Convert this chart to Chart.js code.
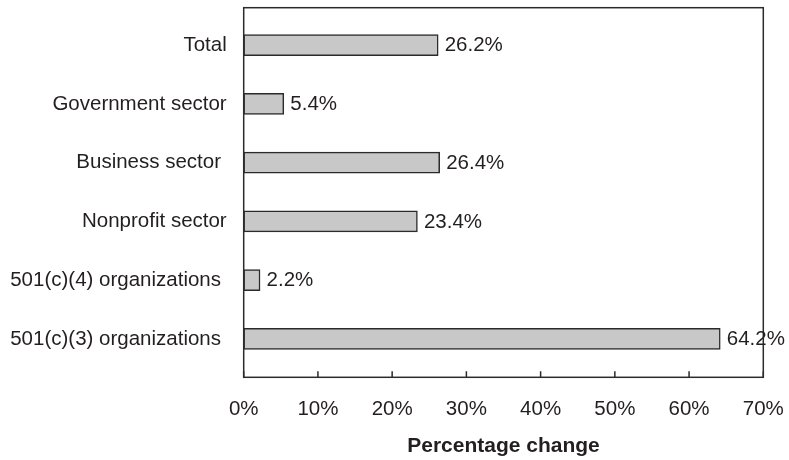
<!DOCTYPE html>
<html>
<head>
<meta charset="utf-8">
<title>Percentage change by sector</title>
<script src="https://cdn.jsdelivr.net/npm/chart.js@4/dist/chart.umd.min.js"></script>
<style>
  html, body { margin: 0; padding: 0; background: #ffffff; }
  #wrap { width: 789px; height: 460px; }
</style>
</head>
<body>
<div id="wrap"><canvas id="chart" width="789" height="460"></canvas></div>
<script>
// Sector categories, top to bottom
const categories = [
  'Total',
  'Government sector',
  'Business sector ',
  'Nonprofit sector',
  '501(c)(4) organizations ',
  '501(c)(3) organizations '
];

// Percentage change for each sector
const percentChange = [26.2, 5.4, 26.4, 23.4, 2.2, 64.2];

// Horizontal axis tick values (percent)
const xTicks = [0, 10, 20, 30, 40, 50, 60, 70];

const TEXT = '#231f20';
const FAMILY = '"Liberation Sans", Arial, Helvetica, sans-serif';

// Frame around the plot, inward tick marks and value labels at bar ends
const framePlugin = {
  id: 'frameAndLabels',
  afterDatasetsDraw(chart) {
    const ctx = chart.ctx;
    const xs = chart.scales.x;
    const area = chart.chartArea;
    const left = area.left, right = area.right;
    const top = 7.7, bottom = 377.3;

    ctx.save();
    ctx.strokeStyle = '#2b2b2b';
    ctx.lineWidth = 1.5;
    ctx.strokeRect(left, top, right - left, bottom - top);

    ctx.beginPath();
    xTicks.forEach(v => {
      const px = xs.getPixelForValue(v);
      ctx.moveTo(px, bottom);
      ctx.lineTo(px, bottom - 6);
    });
    ctx.stroke();

    // value labels
    ctx.fillStyle = TEXT;
    ctx.font = '20.5px ' + FAMILY;
    ctx.textAlign = 'left';
    ctx.textBaseline = 'middle';
    const meta = chart.getDatasetMeta(0);
    meta.data.forEach((bar, i) => {
      ctx.fillText(percentChange[i].toFixed(1) + '%', bar.x + 6.5, bar.y + 0.5);
    });
    ctx.restore();
  }
};

new Chart(document.getElementById('chart'), {
  type: 'bar',
  data: {
    labels: categories,
    datasets: [{
      data: percentChange,
      backgroundColor: '#c8c8c8',
      borderColor: '#2b2b2b',
      borderWidth: 1.5,
      borderSkipped: false,
      barThickness: 21
    }]
  },
  options: {
    indexAxis: 'y',
    responsive: false,
    animation: false,
    devicePixelRatio: 1,
    layout: { padding: { top: 15.8, right: 25.7, bottom: 0, left: 0 } },
    plugins: {
      legend: { display: false },
      tooltip: { enabled: false }
    },
    scales: {
      x: {
        type: 'linear',
        min: 0,
        max: 70,
        afterBuildTicks(scale) {
          scale.ticks = xTicks.map(v => ({ value: v }));
        },
        afterFit(scale) {
          scale.height = 91.7;
          scale.paddingLeft = 0;
          scale.paddingRight = 0;
        },
        grid: { display: false, drawTicks: false },
        border: { display: false },
        ticks: {
          padding: 28.3,
          color: TEXT,
          font: { family: FAMILY, size: 20.5 },
          maxRotation: 0,
          callback: v => v + '%'
        },
        title: {
          display: true,
          text: 'Percentage change',
          color: TEXT,
          font: { family: FAMILY, size: 21, weight: 'bold', lineHeight: 1.2 },
          padding: { top: 0, bottom: 0.7 }
        }
      },
      y: {
        type: 'category',
        afterFit(scale) {
          scale.width = 243.7;
          scale.paddingTop = 0;
          scale.paddingBottom = 0;
        },
        grid: { display: false, drawTicks: false },
        border: { display: false },
        ticks: {
          padding: 17,
          color: TEXT,
          font: { family: FAMILY, size: 20.5 },
          autoSkip: false
        }
      }
    }
  },
  plugins: [framePlugin]
});
</script>
</body>
</html>
